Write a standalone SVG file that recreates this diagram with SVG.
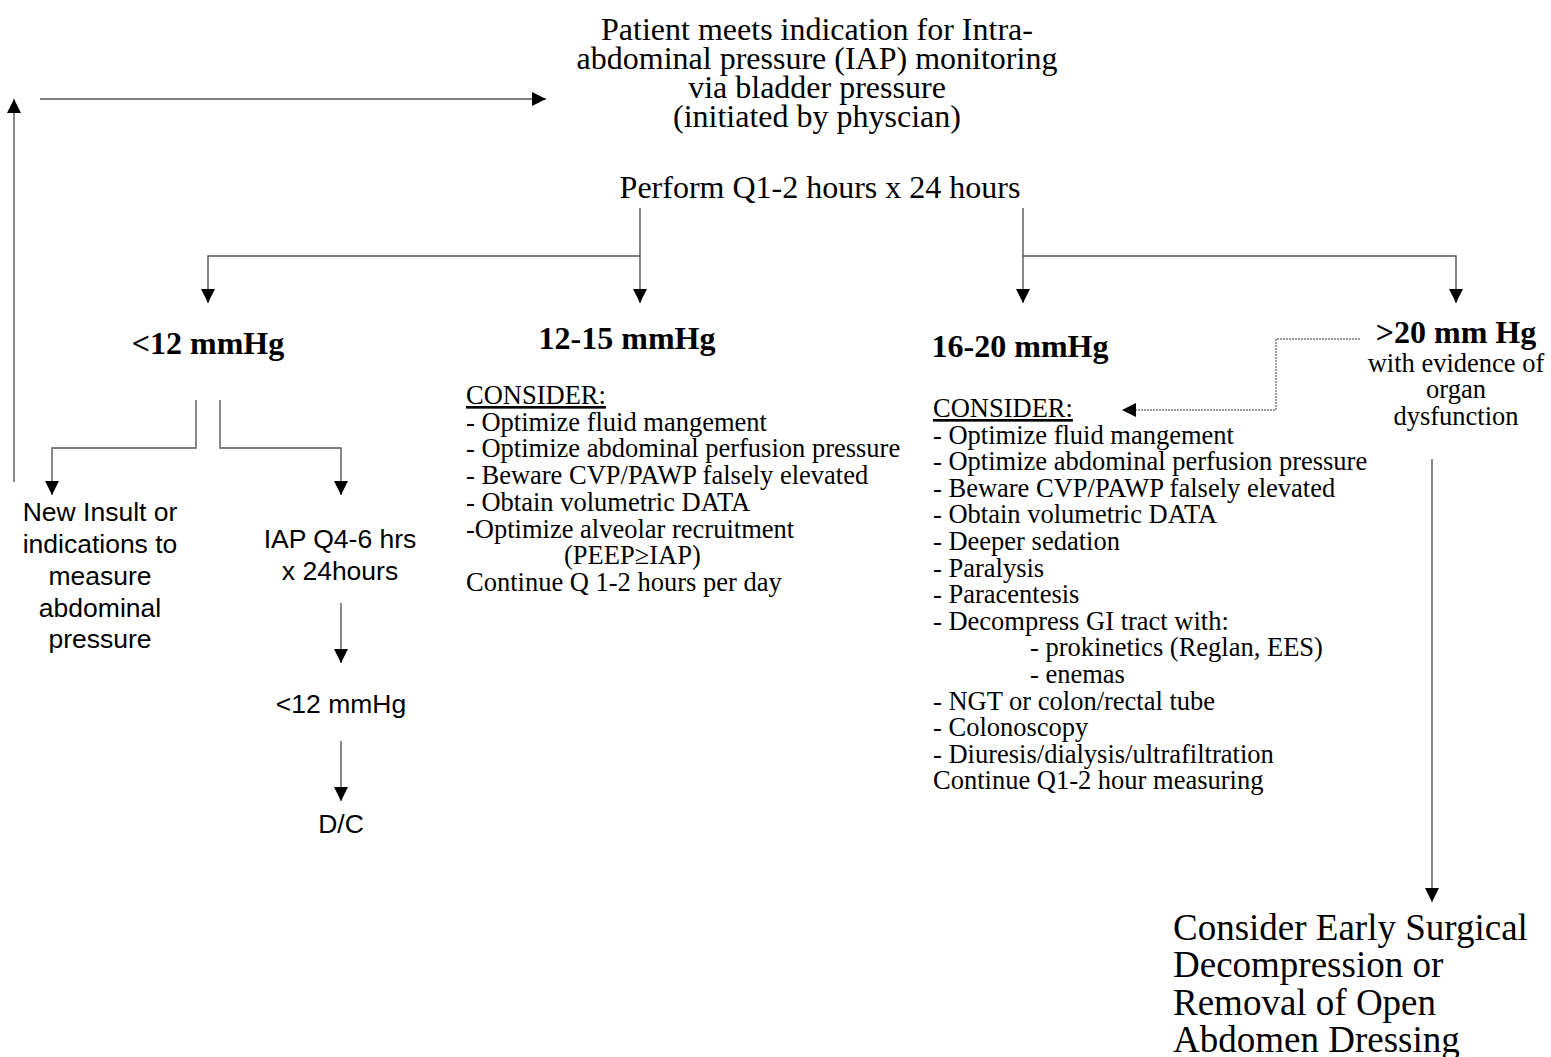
<svg xmlns="http://www.w3.org/2000/svg" width="1551" height="1057" viewBox="0 0 1551 1057">
<defs>
<marker id="ah" markerUnits="userSpaceOnUse" markerWidth="15" markerHeight="14" refX="14" refY="7" orient="auto">
<path d="M0,0 L14,7 L0,14 z" fill="#000"/>
</marker>
<style>
.c{fill:none;stroke:#555;stroke-width:1.4}
.d{fill:none;stroke:#777;stroke-width:1.4;stroke-dasharray:2 1}
.t{font-family:"Liberation Serif","Times New Roman",serif;fill:#000}
.a{font-family:"Liberation Sans",Arial,sans-serif;fill:#000;font-size:26.5px;text-anchor:middle}
.big{font-size:32px;text-anchor:middle}
.hd{font-size:32px;font-weight:bold;text-anchor:middle}
.li{font-size:26.5px}
.mid{text-anchor:middle}
.u{text-decoration:underline}
</style>
</defs>
<rect width="1551" height="1057" fill="#fff"/>
<g id="connectors">
<path class="c" d="M40,99 H546" marker-end="url(#ah)"/>
<path class="c" d="M14,482 V99" marker-end="url(#ah)"/>
<path class="c" d="M640,208 V303" marker-end="url(#ah)"/>
<path class="c" d="M640,256 H208 V303" marker-end="url(#ah)"/>
<path class="c" d="M1023,208 V303" marker-end="url(#ah)"/>
<path class="c" d="M1023,256 H1456 V303" marker-end="url(#ah)"/>
<path class="c" d="M196,400 V448 H52 V495" marker-end="url(#ah)"/>
<path class="c" d="M220,400 V448 H341 V495" marker-end="url(#ah)"/>
<path class="c" d="M341,603 V663" marker-end="url(#ah)"/>
<path class="c" d="M341,741 V801" marker-end="url(#ah)"/>
<path class="d" d="M1360,339 H1276 V410 H1122" marker-end="url(#ah)"/>
<path class="c" d="M1432,459 V902" marker-end="url(#ah)"/>
</g>
<g id="start">
<text class="t big" x="817" y="40">Patient meets indication for Intra-</text>
<text class="t big" x="817" y="69">abdominal pressure (IAP) monitoring</text>
<text class="t big" x="817" y="98">via bladder pressure</text>
<text class="t big" x="817" y="127">(initiated by physcian)</text>
</g>
<g id="perform">
<text class="t big" x="820" y="198">Perform Q1-2 hours x 24 hours</text>
</g>
<g id="lt12">
<text class="t hd" x="208" y="354">&lt;12 mmHg</text>
</g>
<g id="r12-15">
<text class="t hd" x="627" y="349">12-15 mmHg</text>
</g>
<g id="r16-20">
<text class="t hd" x="1020" y="357">16-20 mmHg</text>
</g>
<g id="gt20">
<text class="t hd" x="1456" y="343">&gt;20 mm Hg</text>
<text class="t li mid" x="1456" y="372">with evidence of</text>
<text class="t li mid" x="1456" y="398">organ</text>
<text class="t li mid" x="1456" y="425">dysfunction</text>
</g>
<g id="new-insult">
<text class="a" x="100" y="521">New Insult or</text>
<text class="a" x="100" y="553">indications to</text>
<text class="a" x="100" y="585">measure</text>
<text class="a" x="100" y="617">abdominal</text>
<text class="a" x="100" y="648">pressure</text>
</g>
<g id="iap-q4">
<text class="a" x="340" y="548">IAP Q4-6 hrs</text>
<text class="a" x="340" y="580">x 24hours</text>
</g>
<g id="lt12b">
<text class="a" x="341" y="713">&lt;12 mmHg</text>
</g>
<g id="dc">
<text class="a" x="341" y="833">D/C</text>
</g>
<g id="consider-12-15">
<text class="t li" x="466" y="404"><tspan class="u">CONSIDER:</tspan></text>
<text class="t li" x="466" y="430.7">- Optimize fluid mangement</text>
<text class="t li" x="466" y="457.4">- Optimize abdominal perfusion pressure</text>
<text class="t li" x="466" y="484.1">- Beware CVP/PAWP falsely elevated</text>
<text class="t li" x="466" y="510.8">- Obtain volumetric DATA</text>
<text class="t li" x="466" y="537.5">-Optimize alveolar recruitment</text>
<text class="t li" x="564" y="564.2">(PEEP≥IAP)</text>
<text class="t li" x="466" y="590.9">Continue Q 1-2 hours per day</text>
</g>
<g id="consider-16-20">
<text class="t li" x="933" y="417"><tspan class="u">CONSIDER:</tspan></text>
<text class="t li" x="933" y="443.6">- Optimize fluid mangement</text>
<text class="t li" x="933" y="470.2">- Optimize abdominal perfusion pressure</text>
<text class="t li" x="933" y="496.8">- Beware CVP/PAWP falsely elevated</text>
<text class="t li" x="933" y="523.4">- Obtain volumetric DATA</text>
<text class="t li" x="933" y="550">- Deeper sedation</text>
<text class="t li" x="933" y="576.6">- Paralysis</text>
<text class="t li" x="933" y="603.2">- Paracentesis</text>
<text class="t li" x="933" y="629.8">- Decompress GI tract with:</text>
<text class="t li" x="1030" y="656.4">- prokinetics (Reglan, EES)</text>
<text class="t li" x="1030" y="683">- enemas</text>
<text class="t li" x="933" y="709.6">- NGT or colon/rectal tube</text>
<text class="t li" x="933" y="736.2">- Colonoscopy</text>
<text class="t li" x="933" y="762.8">- Diuresis/dialysis/ultrafiltration</text>
<text class="t li" x="933" y="789.4">Continue Q1-2 hour measuring</text>
</g>
<g id="surgical">
<text class="t" font-size="37" x="1173" y="940">Consider Early Surgical</text>
<text class="t" font-size="37" x="1173" y="977">Decompression or</text>
<text class="t" font-size="37" x="1173" y="1015">Removal of Open</text>
<text class="t" font-size="37" x="1173" y="1052">Abdomen Dressing</text>
</g>
</svg>
